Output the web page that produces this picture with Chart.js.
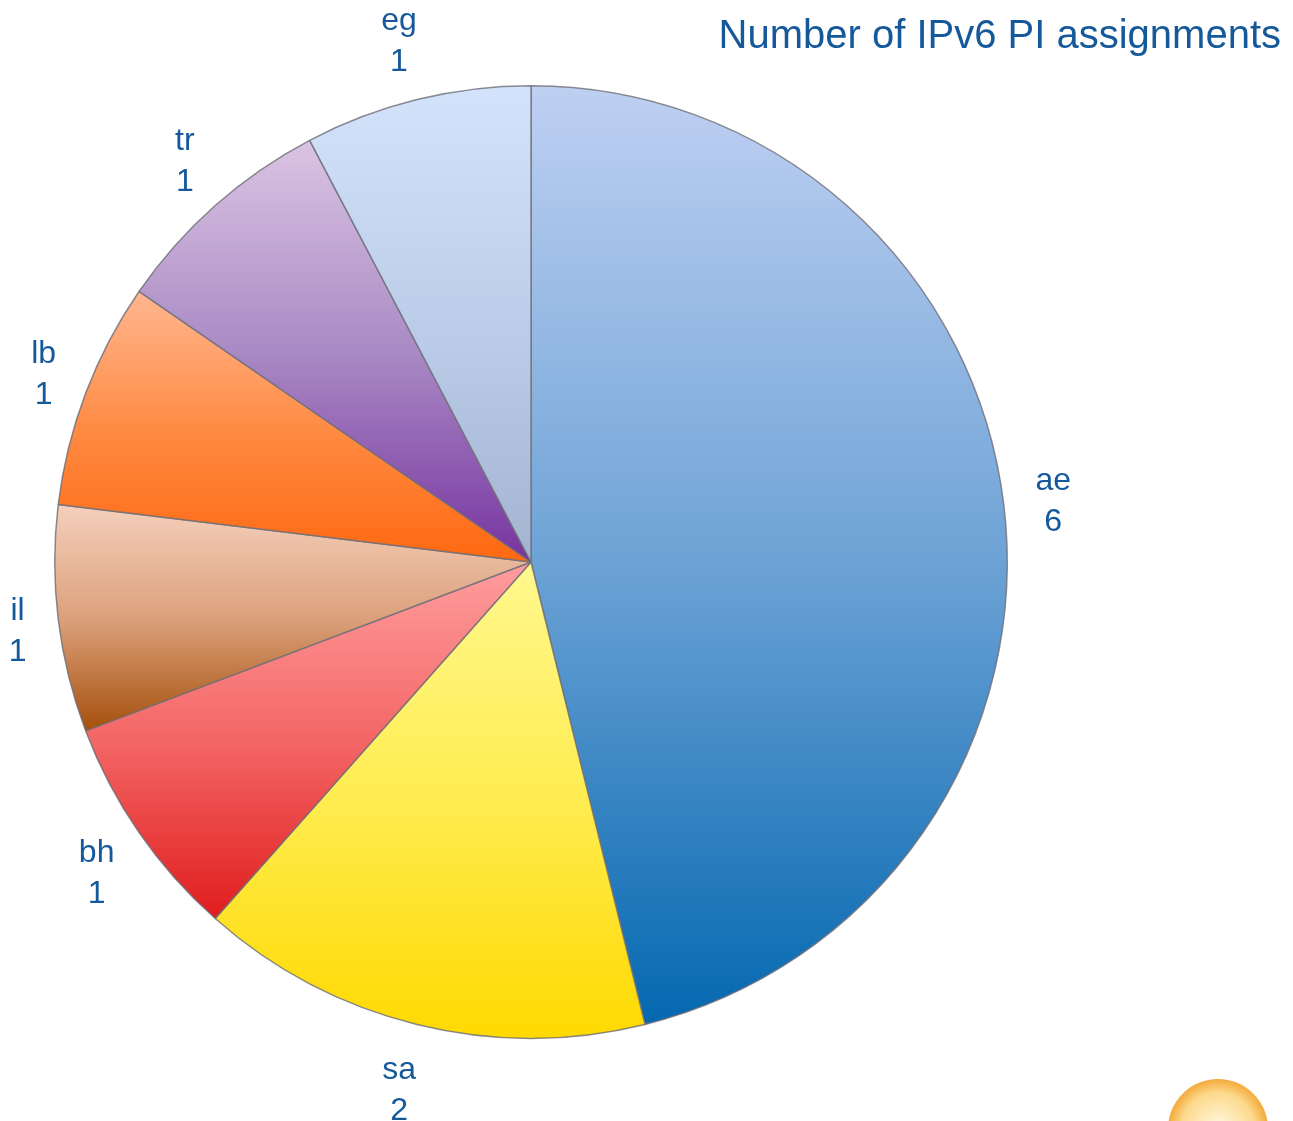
<!DOCTYPE html>
<html lang="en">
<head>
  <meta charset="UTF-8">
  <title>Number of IPv6 PI assignments</title>
  <script src="https://cdn.jsdelivr.net/npm/chart.js"></script>
  <style>
    html, body { margin: 0; padding: 0; background: #fff; }
    #wrap { width: 1293px; height: 1121px; }
  </style>
</head>
<body>
  <div id="wrap"><canvas id="piChart" width="1293" height="1121"></canvas></div>

  <script>
    const titleText = 'Number of IPv6 PI assignments';
    const countries = ['ae', 'sa', 'bh', 'il', 'lb', 'tr', 'eg'];
    const assignments = [6, 2, 1, 1, 1, 1, 1];
    // light (top) -> dark (bottom) for each slice
    const topColors = ['#bfd0f2', '#fff88e', '#ff9e9e', '#f5d0bc', '#ffb690', '#dac4e3', '#d3e3fb'];
    const midColors = ['#6ea3d6', '#ffec50', '#f46666', '#dca17c', '#ff8c45', '#a98ac4', '#bccde9'];
    const bottomColors = ['#0468b0', '#ffd900', '#e01d1d', '#a5500c', '#ff6810', '#7734a0', '#a3b4d1'];
    const textColor = '#15599b';

    function sliceBox(arc) {
      // vertical extent of the wedge, for its own gradient
      const pts = [[arc.x, arc.y]];
      const a0 = arc.startAngle, a1 = arc.endAngle, r = arc.outerRadius;
      pts.push([arc.x + r * Math.cos(a0), arc.y + r * Math.sin(a0)]);
      pts.push([arc.x + r * Math.cos(a1), arc.y + r * Math.sin(a1)]);
      for (let k = -4; k <= 4; k++) {
        const a = k * Math.PI / 2;
        if (a > a0 && a < a1) pts.push([arc.x + r * Math.cos(a), arc.y + r * Math.sin(a)]);
      }
      const ys = pts.map(p => p[1]);
      return { top: Math.min(...ys), bottom: Math.max(...ys) };
    }

    const labelPlugin = {
      id: 'outerLabels',
      afterDatasetsDraw(chart) {
        const ctx = chart.ctx;
        const arcs = chart.getDatasetMeta(0).data;
        ctx.save();
        ctx.fillStyle = textColor;
        ctx.font = '32px "Liberation Sans", Arial, sans-serif';
        ctx.textAlign = 'center';
        ctx.textBaseline = 'middle';
        arcs.forEach((arc, i) => {
          const mid = (arc.startAngle + arc.endAngle) / 2;
          const dx = Math.cos(mid), dy = Math.sin(mid);
          const halfW = Math.max(ctx.measureText(countries[i]).width, ctx.measureText(String(assignments[i])).width) / 2;
          const gap = 24, halfH = 40;
          const x = arc.x + dx * (arc.outerRadius + gap + halfW) + Math.sign(dx) * 8;
          const y = arc.y + dy * (arc.outerRadius + gap + halfH) + 4;
          ctx.fillText(countries[i], x, y - 20);
          ctx.fillText(String(assignments[i]), x, y + 21);
        });

        // title
        ctx.font = '40px "Liberation Sans", Arial, sans-serif';
        ctx.textAlign = 'right';
        ctx.textBaseline = 'alphabetic';
        ctx.fillText(titleText, 1281, 48);

        // corner logo, partly cut off
        const g = ctx.createRadialGradient(1218, 1129, 5, 1218, 1129, 50);
        g.addColorStop(0, '#fff6d8');
        g.addColorStop(0.7, '#fcd98c');
        g.addColorStop(1, '#f4aa3a');
        ctx.beginPath();
        ctx.arc(1218, 1129, 50, 0, Math.PI * 2);
        ctx.fillStyle = g;
        ctx.fill();
        ctx.restore();
      }
    };

    const chart = new Chart(document.getElementById('piChart'), {
      type: 'pie',
      data: {
        labels: countries,
        datasets: [{
          data: assignments,
          backgroundColor: function (c) {
            const arc = c.chart.getDatasetMeta(0).data[c.dataIndex];
            if (!arc || !arc.outerRadius) return midColors[c.dataIndex];
            const box = sliceBox(arc);
            const grad = c.chart.ctx.createLinearGradient(0, box.top, 0, box.bottom);
            grad.addColorStop(0, topColors[c.dataIndex]);
            grad.addColorStop(0.5, midColors[c.dataIndex]);
            grad.addColorStop(1, bottomColors[c.dataIndex]);
            return grad;
          },
          borderColor: 'rgba(110,110,120,0.8)',
          borderWidth: 1.5
        }]
      },
      options: {
        responsive: false,
        animation: false,
        layout: { padding: { left: 54, top: 85, right: 285, bottom: 82 } },
        plugins: {
          legend: { display: false },
          tooltip: { enabled: false },
          title: { display: false }
        }
      },
      plugins: [labelPlugin]
    });
    chart.update('none');
  </script>
</body>
</html>
